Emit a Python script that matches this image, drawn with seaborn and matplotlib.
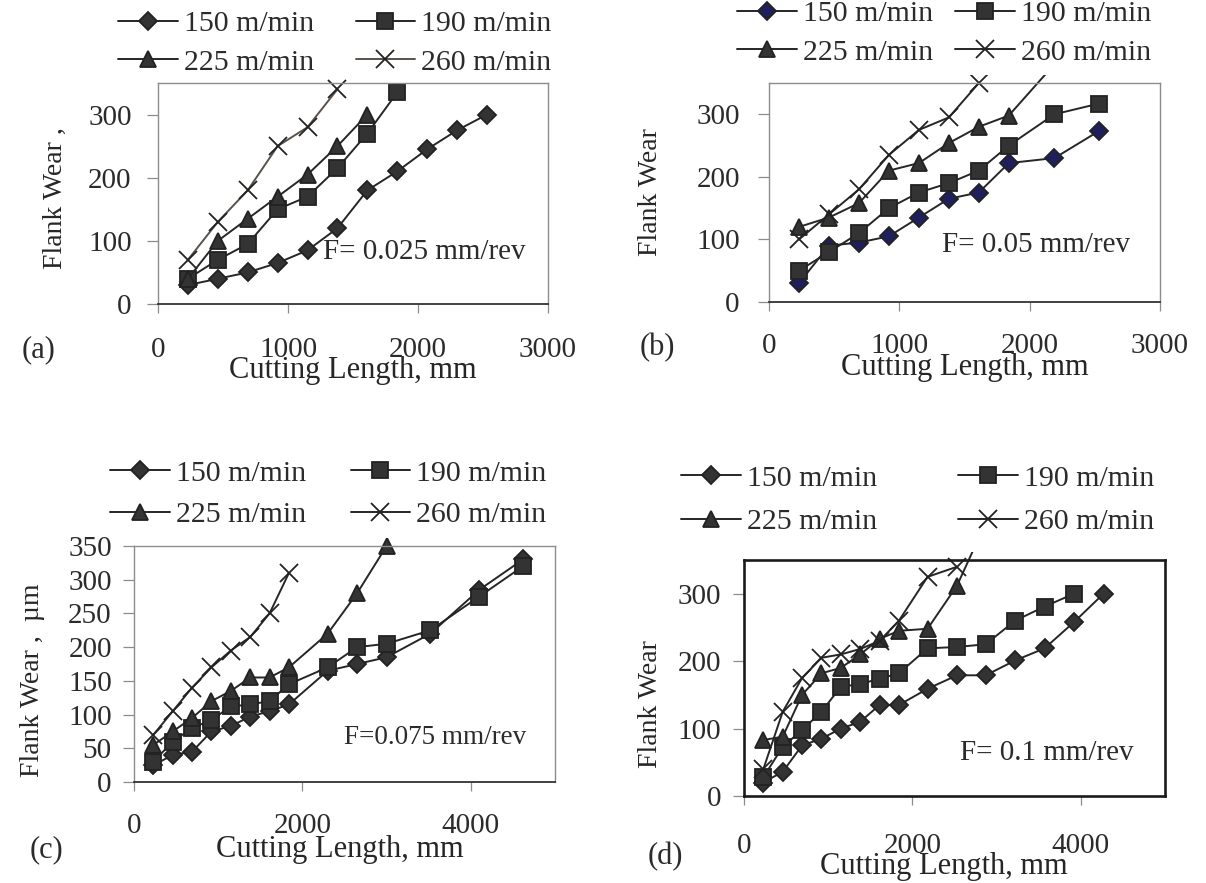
import matplotlib
matplotlib.use("Agg")
import matplotlib.pyplot as plt
import seaborn as sns
from matplotlib.transforms import Bbox, TransformedBbox

# ---- data ----
speeds = ["150 m/min", "190 m/min", "225 m/min", "260 m/min"]

# (a) F = 0.025 mm/rev
a_x = [230, 460, 690, 920, 1150, 1380, 1610, 1840, 2070, 2300, 2530]
a_150 = [30, 40, 50, 65, 85, 120, 180, 210, 245, 275, 300]
a_190 = [40, 70, 95, 150, 170, 215, 270, 335]
a_225 = [40, 100, 135, 170, 205, 250, 300]
a_260 = [70, 130, 180, 250, 280, 340]

# (b) F = 0.05 mm/rev
b_x = [230, 460, 690, 920, 1150, 1380, 1610, 1840, 2190, 2530]
b_150 = [30, 90, 95, 105, 135, 165, 175, 222, 230, 273]
b_190 = [50, 80, 110, 150, 175, 190, 210, 250, 300, 317]
b_225 = [120, 135, 158, 210, 222, 254, 280, 298, 380]
b_260 = [100, 140, 180, 235, 275, 295, 350]

# (c) F = 0.075 mm/rev
c_x = [230, 460, 690, 920, 1150, 1380, 1610, 1840, 2300, 2650, 3000, 3520, 4100, 4620]
c_150 = [25, 40, 45, 75, 83, 97, 105, 115, 165, 175, 185, 220, 285, 330]
c_190 = [30, 60, 80, 92, 112, 115, 120, 145, 170, 200, 205, 225, 275, 320]
c_225 = [55, 75, 95, 120, 135, 155, 155, 170, 220, 280, 350]
c_260 = [70, 105, 140, 170, 195, 215, 250, 310]

# (d) F = 0.1 mm/rev
d_x = [230, 460, 690, 920, 1150, 1380, 1610, 1840, 2180, 2530, 2870, 3220, 3570, 3920, 4270]
d_150 = [20, 36, 75, 85, 100, 110, 135, 135, 159, 179, 179, 201, 219, 258, 300]
d_190 = [28, 73, 98, 125, 162, 166, 174, 182, 219, 221, 225, 260, 281, 300]
d_225 = [83, 88, 150, 182, 190, 210, 233, 245, 248, 312, 405]
d_260 = [40, 125, 175, 205, 210, 218, 230, 260, 325, 340]

sns.set_theme(style="white")
plt.rcParams["font.family"] = ["Liberation Serif", "DejaVu Serif"]
plt.rcParams["text.color"] = "#2b2b2b"

W, H = 1206, 883
fig = plt.figure(figsize=(W / 100, H / 100), dpi=100)

markers = ["D", "s", "^", "x"]
msizes = [9.5, 11, 12, 12.5]
INK = "#262626"
GREY = "#8c8c8c"


def px_axes(x0, y0, x1, y1):
    # pixel box (top-left origin) -> figure axes
    return fig.add_axes([x0 / W, 1 - y1 / H, (x1 - x0) / W, (y1 - y0) / H])


def draw_panel(box, xs, series, xmax, xticks, yticks, ylabel, note, letter, cfg):
    ax = px_axes(*box)
    for i, ys in enumerate(series):
        lc = cfg.get("line_colors", [INK] * 4)[i]
        fc = cfg.get("face_colors", ["#333333"] * 4)[i]
        sns.lineplot(x=xs[:len(ys)], y=ys, ax=ax, color=lc, marker=markers[i],
                     markersize=msizes[i], markerfacecolor=fc,
                     markeredgecolor="#222222", markeredgewidth=1.3,
                     linewidth=1.4, label=speeds[i])
    ax.set_xlim(0, xmax)
    ax.set_ylim(0, 350)
    ax.set_xticks(xticks)
    ax.set_yticks(yticks)
    ax.tick_params(axis="x", direction="out", length=6.5, width=0.9, color=GREY,
                   labelsize=21, pad=cfg["xpad"], labelcolor="#2b2b2b", bottom=True)
    ax.tick_params(axis="y", direction="out", length=8, width=0.9, color=GREY,
                   labelsize=21, pad=cfg["ypad"], labelcolor="#2b2b2b", left=True)

    if cfg.get("heavy"):
        for s in ax.spines.values():
            s.set_color("#1a1a1a")
            s.set_linewidth(1.9)
    else:
        for s in ["top", "right", "left"]:
            ax.spines[s].set_color(GREY)
            ax.spines[s].set_linewidth(1.0)
        ax.spines["bottom"].set_color("#333333")
        ax.spines["bottom"].set_linewidth(1.3)

    # let lines run slightly above the frame as in the source figure
    clip = TransformedBbox(Bbox([[0, 0], [1, 1.035]]), ax.transAxes)
    for ln in ax.lines:
        ln.set_clip_path(None)
        ln.set_clip_box(clip)

    ax.set_ylabel(ylabel, fontsize=20)
    ax.yaxis.label.set_va("center")
    ax.yaxis.set_label_coords(*cfg["ylab"])
    ax.set_xlabel("Cutting Length, mm", fontsize=22)
    ax.xaxis.label.set_va("center")
    ax.xaxis.set_label_coords(*cfg["xlab"])

    handles, labels = ax.get_legend_handles_labels()
    order = [0, 2, 1, 3]
    lx, ly = cfg["legend"]
    ax.legend([handles[k] for k in order], [labels[k] for k in order],
              loc="center left", bbox_to_anchor=(lx / W, 1 - ly / H),
              bbox_transform=fig.transFigure, ncol=2, frameon=False,
              fontsize=21.5, handlelength=2.0, handletextpad=0.2,
              columnspacing=cfg["colsp"], labelspacing=cfg["labsp"],
              borderpad=0, borderaxespad=0)

    nx, ny = cfg["note"]
    fig.text(nx / W, 1 - ny / H, note, fontsize=cfg.get("note_size", 21),
             ha="left", va="center")
    px, py = cfg["letter"]
    fig.text(px / W, 1 - py / H, letter, fontsize=22, ha="left", va="center")
    return ax


draw_panel((158, 83, 548, 304), a_x, [a_150, a_190, a_225, a_260], 3000,
           [0, 1000, 2000, 3000], [0, 100, 200, 300], "Flank Wear ,",
           "F= 0.025 mm/rev", "(a)",
           dict(xpad=17, ypad=11, ylab=(-0.264, 0.48), xlab=(0.5, -0.30),
                legend=(118, 43), colsp=1.4, labsp=0.4, note=(323, 252),
                letter=(22, 350),
                line_colors=[INK, INK, INK, "#5a524a"]))

draw_panel((769, 83, 1160, 302), b_x, [b_150, b_190, b_225, b_260], 3000,
           [0, 1000, 2000, 3000], [0, 100, 200, 300], "Flank Wear",
           "F= 0.05 mm/rev", "(b)",
           dict(xpad=15.5, ypad=13, ylab=(-0.302, 0.5), xlab=(0.5, -0.297),
                legend=(737, 33), colsp=0.75, labsp=0.4, note=(942, 245),
                letter=(640, 348),
                face_colors=["#1f1f5c", "#333333", "#333333", "#333333"]))

draw_panel((134, 546, 555, 782), c_x, [c_150, c_190, c_225, c_260], 5000,
           [0, 2000, 4000], [0, 50, 100, 150, 200, 250, 300, 350],
           "Flank Wear ,  \u00b5m", "F=0.075 mm/rev", "(c)",
           dict(xpad=16, ypad=8, ylab=(-0.24, 0.43), xlab=(0.49, -0.288),
                legend=(110, 494), colsp=1.5, labsp=0.5, note=(344, 738),
                note_size=19.5, letter=(30, 850)))

draw_panel((744, 560, 1165, 796), d_x, [d_150, d_190, d_225, d_260], 5000,
           [0, 2000, 4000], [0, 100, 200, 300], "Flank Wear",
           "F= 0.1 mm/rev", "(d)",
           dict(xpad=20, ypad=8.5, ylab=(-0.223, 0.39), xlab=(0.475, -0.297),
                legend=(681, 500), colsp=2.73, labsp=0.55, note=(960, 753),
                letter=(648, 857), heavy=True))

fig.savefig("out.png", dpi=100, facecolor="white")
